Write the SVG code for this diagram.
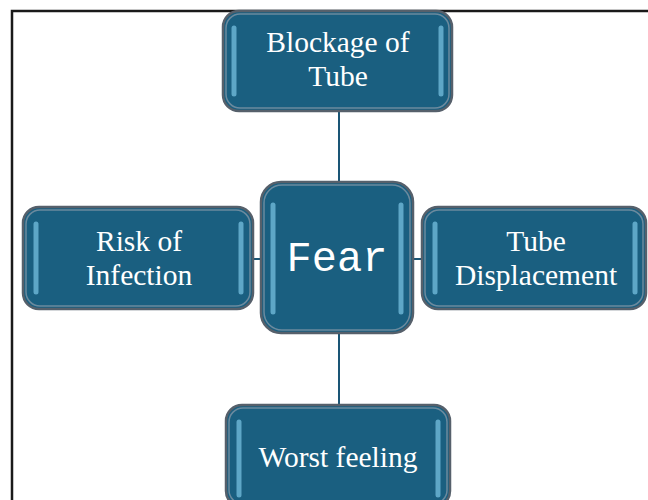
<svg xmlns="http://www.w3.org/2000/svg" width="648" height="500" viewBox="0 0 648 500">
<defs>
<style>
.box{fill:#1a5f80;stroke:#56606b;stroke-width:2.5}
.halo{fill:none;stroke:#7f95a5;stroke-width:1.5;opacity:0.8}
.hl{stroke:#7cc6e6;stroke-width:5;stroke-linecap:round;opacity:0.7}
.t{font-family:"Liberation Serif","Times New Roman",serif;font-size:29.5px;fill:#ffffff;text-anchor:middle}
.m{font-family:"Liberation Mono","Courier New",monospace;font-size:42px;fill:#ffffff;text-anchor:middle}
.c{stroke:#1a5575;stroke-width:2;fill:none}
</style>
</defs>
<rect width="648" height="500" fill="#ffffff"/>
<path d="M12 500 V11 H648" fill="none" stroke="#1a1a1a" stroke-width="2.5"/>
<g id="connectors">
<line class="c" x1="339" y1="111" x2="339" y2="182"/>
<line class="c" x1="339" y1="333" x2="339" y2="405"/>
<line class="c" x1="253" y1="259" x2="261" y2="259"/>
<line class="c" x1="413" y1="259" x2="422" y2="259"/>
</g>
<g id="top">
<rect class="box" x="223" y="11" width="229" height="100" rx="16"/>
<rect class="halo" x="226" y="14" width="223" height="94" rx="14"/>
<line class="hl" x1="234" y1="28" x2="234" y2="94"/>
<line class="hl" x1="441" y1="28" x2="441" y2="94"/>
<text class="t" x="338" y="52">Blockage of</text>
<text class="t" x="338" y="86">Tube</text>
</g>
<g id="center">
<rect class="box" x="261" y="182" width="152" height="151" rx="20"/>
<rect class="halo" x="264" y="185" width="146" height="145" rx="18"/>
<line class="hl" x1="273" y1="205" x2="273" y2="312"/>
<line class="hl" x1="401" y1="205" x2="401" y2="312"/>
<text class="m" x="337" y="271">Fear</text>
</g>
<g id="left">
<rect class="box" x="23" y="207" width="230" height="102" rx="16"/>
<rect class="halo" x="26" y="210" width="224" height="96" rx="14"/>
<line class="hl" x1="36" y1="224" x2="36" y2="292"/>
<line class="hl" x1="241" y1="224" x2="241" y2="292"/>
<text class="t" x="139" y="251">Risk of</text>
<text class="t" x="139" y="285">Infection</text>
</g>
<g id="right">
<rect class="box" x="422" y="207" width="224" height="102" rx="16"/>
<rect class="halo" x="425" y="210" width="218" height="96" rx="14"/>
<line class="hl" x1="435" y1="224" x2="435" y2="292"/>
<line class="hl" x1="635" y1="224" x2="635" y2="292"/>
<text class="t" x="536" y="251">Tube</text>
<text class="t" x="536" y="285">Displacement</text>
</g>
<g id="bottom">
<rect class="box" x="226" y="405" width="224" height="102" rx="16"/>
<rect class="halo" x="229" y="408" width="218" height="96" rx="14"/>
<line class="hl" x1="239" y1="422" x2="239" y2="495"/>
<line class="hl" x1="438" y1="422" x2="438" y2="495"/>
<text class="t" x="338" y="467">Worst feeling</text>
</g>
</svg>
